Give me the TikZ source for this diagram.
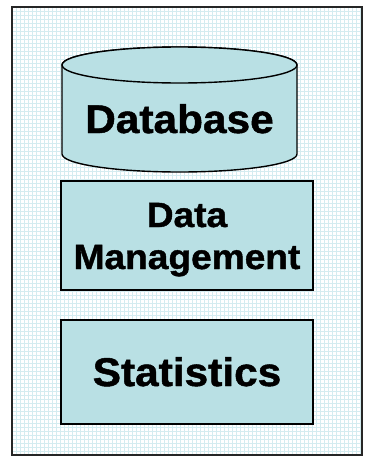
\documentclass[tikz,border=0pt]{standalone}
\usepackage{fontspec}
\newfontfamily\labelfont[FakeStretch=1.06,FakeBold=1.2]{Liberation Sans Bold}
\definecolor{boxfill}{RGB}{185,224,228}
\definecolor{gridcol}{RGB}{212,236,240}
\begin{document}
\begin{tikzpicture}[x=1pt,y=-1pt,
  panel/.style={draw=black!85,line width=1.6pt},
  block/.style={draw=black,fill=boxfill,line width=1.4pt},
  bigtext/.style={font=\labelfont\fontsize{40}{48}\selectfont,anchor=base,inner sep=0pt},
  midtext/.style={font=\labelfont\fontsize{35}{42}\selectfont,anchor=base,inner sep=0pt}]
\useasboundingbox (0,0) rectangle (370,458);
% outer panel with fine grid texture
\fill[white] (12,7) rectangle (362,455);
\begin{scope}
  \clip (12,7) rectangle (362,455);
  \foreach \i in {0,...,88} {
    \draw[gridcol,line width=0.9pt] (12+4*\i,7) -- (12+4*\i,455);
  }
  \foreach \j in {0,...,112} {
    \draw[gridcol,line width=0.9pt] (12,7+4*\j) -- (362,7+4*\j);
  }
\end{scope}
\node[panel,minimum width=350pt,minimum height=448pt,inner sep=0pt] (frame) at (187,231) {};
% database cylinder (y grows downward, so the lower rim runs 180 -> 0)
\draw[block] (62,65) -- (62,154) arc[start angle=180,end angle=0,x radius=117.5,y radius=18]
  -- (297,65) arc[start angle=0,end angle=-180,x radius=117.5,y radius=18] -- cycle;
\draw[block] (179.5,65) ellipse[x radius=117.5,y radius=18];
\node[bigtext] (db) at (179.5,133) {Database};
% data management block
\node[block,minimum width=252pt,minimum height=109pt,inner sep=0pt] (dmbox) at (187,235.5) {};
\node[midtext] (dm1) at (187,227) {Data};
\node[midtext] (dm2) at (187,269) {Management};
% statistics block
\node[block,minimum width=252pt,minimum height=104pt,inner sep=0pt] (stbox) at (187,372) {};
\node[bigtext] (st) at (187,386) {Statistics};
\end{tikzpicture}
\end{document}
